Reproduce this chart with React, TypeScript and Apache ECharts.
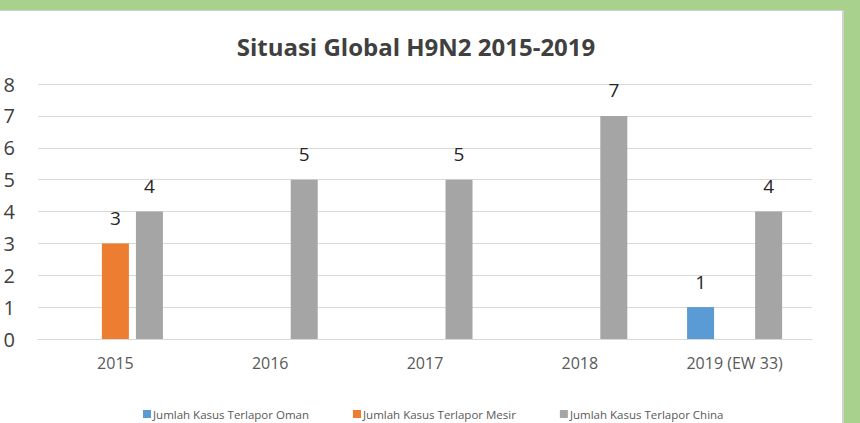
import React, { useEffect, useRef } from "react";
import * as echarts from "echarts";

const categories = ["2015", "2016", "2017", "2018", "2019 (EW 33)"];
const omanValues = [null, null, null, null, 1];
const mesirValues = [3, null, null, null, null];
const chinaValues = [4, 5, 5, 7, 4];
const seriesNames = [
  "Jumlah Kasus Terlapor Oman",
  "Jumlah Kasus Terlapor Mesir",
  "Jumlah Kasus Terlapor China",
];
const titleText = "Situasi Global H9N2 2015-2019";

const FONT = "'Open Sans', 'Noto Sans', sans-serif";

export default function App() {
  const ref = useRef<HTMLDivElement>(null);
  useEffect(() => {
    if (!ref.current) return;
    const chart = echarts.init(ref.current, undefined, { renderer: "svg" });
    const label = {
      show: true,
      position: "top",
      distance: 16,
      fontSize: 19,
      fontFamily: FONT,
      color: "#262626",
    };
    const mk = (name: string, data: (number | null)[], color: string) => ({
      name,
      type: "bar",
      data,
      barWidth: 27,
      barGap: "26%",
      itemStyle: { color },
      label,
    });
    chart.setOption({
      animation: false,
      textStyle: { fontFamily: FONT },
      title: {
        text: titleText,
        left: 411,
        textAlign: "center",
        top: 29,
        textStyle: { fontSize: 24, fontWeight: "bold", color: "#404040", fontFamily: FONT },
      },
      legend: {
        bottom: 3,
        left: 143,
        padding: 0,
        orient: "horizontal",
        width: 700,
        itemWidth: 8,
        itemHeight: 8,
        itemGap: 44,
        icon: "rect",
        textStyle: { fontSize: 11.5, color: "#595959", fontFamily: FONT, padding: [0, 0, 0, -3] },
        data: seriesNames,
      },
      grid: { left: 38, right: 48, top: 84, bottom: 84 },
      xAxis: {
        type: "category",
        data: categories,
        axisLine: { show: true, lineStyle: { color: "#d9d9d9", width: 1 } },
        axisTick: { show: false },
        axisLabel: { fontSize: 16, color: "#595959", margin: 16, fontFamily: FONT },
      },
      yAxis: {
        type: "value",
        min: 0,
        max: 8,
        interval: 1,
        axisLine: { show: false },
        axisTick: { show: false },
        splitLine: { lineStyle: { color: "#d9d9d9", width: 1 } },
        axisLabel: { fontSize: 20, color: "#404040", margin: 23, fontFamily: FONT },
      },
      series: [
        mk(seriesNames[0], omanValues, "#5B9BD5"),
        mk(seriesNames[1], mesirValues, "#ED7D31"),
        mk(seriesNames[2], chinaValues, "#A5A5A5"),
      ],
    });
    return () => chart.dispose();
  }, []);
  return (
    <div
      style={{
        position: "fixed",
        left: 0,
        top: 0,
        width: 860,
        height: 423,
        background: "#A9D18E",
        overflow: "hidden",
      }}
    >
      <div
        style={{
          position: "absolute",
          left: -2,
          top: 10,
          width: 843,
          height: 420,
          background: "#ffffff",
          border: "1px solid #d0d0d0",
          borderRightWidth: 2,
        }}
      />
      <div ref={ref} style={{ position: "absolute", left: 0, top: 0, width: 860, height: 423 }} />
    </div>
  );
}
